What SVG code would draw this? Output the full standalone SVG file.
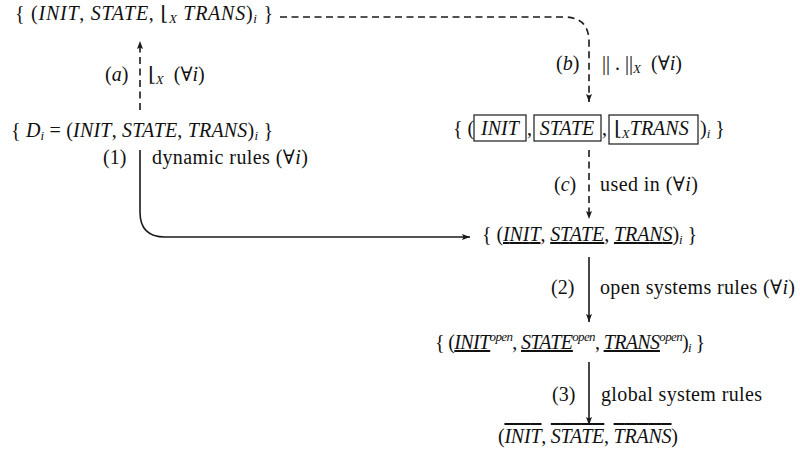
<svg xmlns="http://www.w3.org/2000/svg" width="800" height="456" viewBox="0 0 800 456" font-family="'Liberation Serif', 'DejaVu Serif', serif">
  <style>
    text { font-family: 'Liberation Serif', 'DejaVu Serif', serif; fill: #111; }
    .m { font-size: 20px; }
    .r { font-size: 20px; }
    .it { font-style: italic; }
    .sub { font-size: 13px; font-style: italic; }
    .ul { text-decoration: underline; }
    .ol { text-decoration: overline; }
    .dash { fill: none; stroke: #1a1a1a; stroke-width: 1.6; stroke-dasharray: 7 4.5; }
    .solid { fill: none; stroke: #1a1a1a; stroke-width: 1.6; }
    .box { fill: none; stroke: #1a1a1a; stroke-width: 1.2; }
  </style>
  <defs>
    <marker id="head" markerUnits="userSpaceOnUse" markerWidth="10" markerHeight="8" refX="8" refY="3" orient="auto">
      <path d="M0,0 L8,3 L0,6 L1.5,3 z" fill="#1a1a1a"/>
    </marker>
  </defs>

  <!-- connectors -->
  <g id="connectors">
    <path class="dash" d="M140,110 V41" marker-end="url(#head)"/>
    <path class="dash" d="M280,17 H564 Q589,17 589,42 V102" marker-end="url(#head)"/>
    <path class="dash" d="M589,150 V219" marker-end="url(#head)"/>
    <path class="solid" d="M140,150 V212 Q140,237 165,237 H470" marker-end="url(#head)"/>
    <path class="solid" d="M589,257 V322" marker-end="url(#head)"/>
    <path class="solid" d="M589,362 V425" marker-end="url(#head)"/>
  </g>

  <!-- edge labels -->
  <g id="labels">
    <text class="r" x="105" y="81">(<tspan class="it">a</tspan>)</text>
    <text class="r" x="148" y="81">⌊<tspan class="sub" dy="3">X</tspan><tspan dy="-3" dx="10">(∀</tspan><tspan class="it">i</tspan>)</text>
    <text class="r" x="556" y="70">(<tspan class="it">b</tspan>)</text>
    <text class="r" x="602" y="70">|| . ||<tspan class="sub" dy="3">X</tspan><tspan dy="-3" dx="10">(∀</tspan><tspan class="it">i</tspan>)</text>
    <text class="r" x="554" y="191">(<tspan class="it">c</tspan>)</text>
    <text class="r" x="600" y="191" textLength="98">used in (∀<tspan class="it">i</tspan>)</text>
    <text class="r" x="103" y="164">(1)</text>
    <text class="r" x="152" y="164" textLength="156">dynamic rules (∀<tspan class="it">i</tspan>)</text>
    <text class="r" x="551" y="294">(2)</text>
    <text class="r" x="600" y="294" textLength="195">open systems rules (∀<tspan class="it">i</tspan>)</text>
    <text class="r" x="552" y="401">(3)</text>
    <text class="r" x="601" y="401" textLength="161">global system rules</text>
  </g>

  <!-- nodes -->
  <g id="node-restricted">
    <text class="m" x="15" y="20" textLength="258">{ (<tspan class="it">INIT</tspan>, <tspan class="it">STATE</tspan>, ⌊<tspan class="sub" dy="3">X</tspan><tspan dy="-3"> </tspan><tspan class="it">TRANS</tspan>)<tspan class="sub" dy="3">i</tspan><tspan dy="-3"> }</tspan></text>
  </g>

  <g id="node-dynamic">
    <text class="m" x="11" y="137" textLength="262">{ <tspan class="it">D</tspan><tspan class="sub" dy="3">i</tspan><tspan dy="-3"> = (</tspan><tspan class="it">INIT</tspan>, <tspan class="it">STATE</tspan>, <tspan class="it">TRANS</tspan>)<tspan class="sub" dy="3">i</tspan><tspan dy="-3"> }</tspan></text>
  </g>

  <g id="node-boxed">
    <rect class="box" x="474" y="115" width="52" height="26"/>
    <rect class="box" x="534" y="115" width="67" height="26"/>
    <rect class="box" x="609" y="115" width="89" height="29"/>
    <text class="m" x="453" y="135">{ (</text>
    <text class="m it" x="500" y="135" text-anchor="middle">INIT</text>
    <text class="m" x="527" y="135">,</text>
    <text class="m it" x="567" y="135" text-anchor="middle">STATE</text>
    <text class="m" x="602" y="135">,</text>
    <text class="m" x="614" y="135">⌊<tspan class="sub" dy="3">X</tspan><tspan class="it" dy="-3">TRANS</tspan></text>
    <text class="m" x="700" y="135">)<tspan class="sub" dy="3">i</tspan><tspan dy="-3"> }</tspan></text>
  </g>

  <g id="node-underlined">
    <text class="m" x="482" y="241" textLength="215">{ (<tspan class="it ul">INIT</tspan>, <tspan class="it ul">STATE</tspan>, <tspan class="it ul">TRANS</tspan>)<tspan class="sub" dy="3">i</tspan><tspan dy="-3"> }</tspan></text>
  </g>

  <g id="node-open">
    <text class="m" x="435" y="349" textLength="270">{ (<tspan class="it ul">INIT</tspan><tspan class="sub" dy="-8">open</tspan><tspan dy="8">, </tspan><tspan class="it ul">STATE</tspan><tspan class="sub" dy="-8">open</tspan><tspan dy="8">, </tspan><tspan class="it ul">TRANS</tspan><tspan class="sub" dy="-8">open</tspan><tspan dy="8">)</tspan><tspan class="sub" dy="3">i</tspan><tspan dy="-3"> }</tspan></text>
  </g>

  <g id="node-global">
    <text class="m" x="498" y="443" textLength="180">(<tspan class="it ol">INIT</tspan>, <tspan class="it ol">STATE</tspan>, <tspan class="it ol">TRANS</tspan>)</text>
  </g>
</svg>
